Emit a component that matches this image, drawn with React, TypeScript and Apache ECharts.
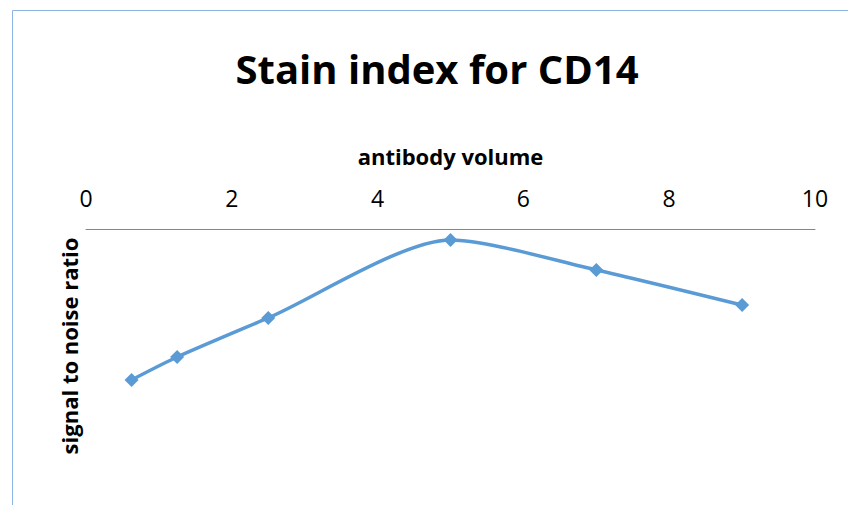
import React, { useEffect, useRef } from "react";
import * as echarts from "echarts";

const volumes = [0.625, 1.25, 2.5, 5, 7, 9];
const ratios = [64.5, 54.7, 38.0, 4.7, 17.5, 32.5];
const xTicks = { min: 0, max: 10, interval: 2 };
const titleText = "Stain index for CD14";
const xName = "antibody volume";
const yName = "signal to noise ratio";

export default function App() {
  const ref = useRef<HTMLDivElement>(null);
  useEffect(() => {
    if (!ref.current) return;
    const chart = echarts.init(ref.current, undefined, { renderer: "svg" });
    chart.setOption({
      animation: false,
      backgroundColor: "#ffffff",
      graphic: [
        {
          type: "rect",
          shape: { x: 12.5, y: 10.5, width: 845, height: 510 },
          style: { fill: "none", stroke: "#8DB4E2", lineWidth: 1 },
          silent: true,
        },
        {
          type: "text",
          x: 437,
          y: 68,
          style: {
            text: titleText,
            fill: "#000000",
            font: "bold 40px 'Open Sans'",
            textAlign: "center",
            textVerticalAlign: "middle",
          },
        },
      ],
      grid: { left: 86, right: 33, top: 229, bottom: 42 },
      xAxis: {
        type: "value",
        position: "top",
        min: xTicks.min,
        max: xTicks.max,
        interval: xTicks.interval,
        name: xName,
        nameLocation: "middle",
        nameGap: 62,
        nameTextStyle: { fontFamily: "Open Sans", fontWeight: "bold", fontSize: 22, color: "#000" },
        axisLine: { show: true, onZero: false, lineStyle: { color: "#868686", width: 1 } },
        axisTick: { show: false },
        splitLine: { show: false },
        axisLabel: { margin: 20, fontFamily: "Open Sans", fontSize: 23, color: "#000" },
      },
      yAxis: {
        type: "value",
        inverse: true,
        min: 0,
        max: 100,
        name: yName,
        nameLocation: "middle",
        nameGap: 6,
        nameTextStyle: { fontFamily: "Open Sans", fontWeight: "bold", fontSize: 22, color: "#000" },
        axisLine: { show: false },
        axisTick: { show: false },
        axisLabel: { show: false },
        splitLine: { show: false },
      },
      series: [
        {
          type: "line",
          data: volumes.map((v, i) => [v, ratios[i]]),
          smooth: 0.25,
          symbol: "diamond",
          symbolSize: 14,
          lineStyle: { color: "#5B9BD5", width: 3.5 },
          itemStyle: { color: "#5B9BD5" },
        },
      ],
    });
    return () => chart.dispose();
  }, []);
  return (
    <div
      ref={ref}
      style={{ position: "fixed", left: 0, top: 0, width: 848, height: 505 }}
    />
  );
}
